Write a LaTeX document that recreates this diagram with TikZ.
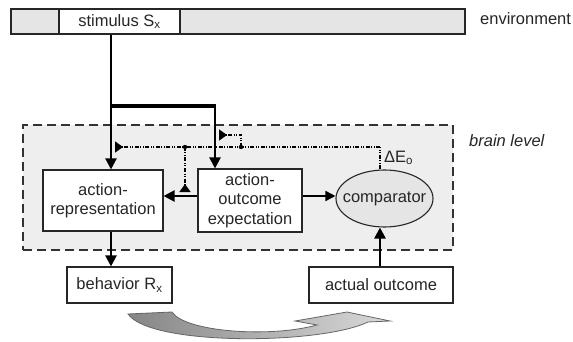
\documentclass[tikz,border=0pt]{standalone}
\usepackage{fontspec}
\setmainfont{Liberation Sans}
\usetikzlibrary{arrows.meta,shapes.geometric}
\begin{document}
\begin{tikzpicture}[x=1pt,y=-1pt,
  txt/.style={font=\fontsize{16.5}{19.5}\selectfont,text=black!85},
  box/.style={txt,draw=black!85,line width=1.1pt,fill=white,inner sep=0pt,align=center},
  flow/.style={line width=2.2pt,-{Triangle[width=11pt,length=11pt]}},
  mod/.style={line width=1.6pt,dash pattern=on 4pt off 1.5pt on 1pt off 1.5pt on 1pt off 1.5pt},
  modtip/.style={-{Triangle[reversed,width=11pt,length=8pt]}},
  lbl/.style={txt,inner sep=0pt}]

\useasboundingbox[fill=white] (0,0) rectangle (573,342);

% environment bar
\node[box,fill=gray!20,minimum width=454pt,minimum height=25pt] (env) at (238,21.5) {};
\node[box,minimum width=121pt,minimum height=25pt] (stim) at (119.5,21.5) {stimulus S\textsubscript{x}};
\node[lbl,anchor=west] (envlbl) at (480,19) {environment};

% brain level
\node[draw=black!80,dash pattern=on 9pt off 5pt,line width=1.1pt,fill=gray!13,
      minimum width=430pt,minimum height=125pt,inner sep=0pt] (brain) at (238,187.5) {};
\node[lbl,anchor=west,font=\fontsize{16.5}{19.5}\selectfont\itshape] (brainlbl) at (469,141) {brain level};

\node[box,minimum width=120pt,minimum height=61pt] (rep) at (103,200.5) {action-\\representation};
\node[box,minimum width=104pt,minimum height=63pt] (aoe) at (250,200.5) {action-\\outcome\\expectation};
\node[ellipse,draw=black!85,line width=1.1pt,fill=gray!20,minimum width=97pt,minimum height=57pt,inner sep=0pt] (comp) at (384.5,198.5) {};
\node[lbl] (comptext) at (comp) {comparator};
\node[lbl,anchor=west] (dE) at (384,158) {ΔE\textsubscript{o}};

\node[box,minimum width=105pt,minimum height=36pt] (beh) at (119.5,285) {behavior R\textsubscript{x}};
\node[box,minimum width=144pt,minimum height=36pt] (act) at (381,285) {actual outcome};

% stimulus connections
\coordinate (split) at (111,106);
\coordinate (split2) at (215,106);
\draw[flow] (stim.south -| split) -- (rep.north -| split);
\draw[line width=4pt] (split) -- (split2);
\draw[flow] ([yshift=2pt]split2) -- (split2 |- aoe.north);

\draw[flow] (rep.south -| split) -- (beh.north -| split);
\coordinate (hy) at (0,196);
\draw[flow] (aoe.west |- hy) -- (rep.east |- hy);
\draw[line width=1.6pt,-{Triangle[width=10pt,length=10pt]}] (aoe.east |- hy) -- (comp.west |- hy);
\coordinate (vx) at (380,0);
\draw[flow,line width=2.6pt] (act.north -| vx) -- (comp.south -| vx);

% feedback
\coordinate (fbtop) at (380,147);
\coordinate (fbl) at (115,147);
\coordinate (d1) at (185,147);
\coordinate (d2) at (241,147);
\coordinate (b2) at (241,135);
\coordinate (t2) at (219,135);
\coordinate (t1) at (185,192);
\draw[mod] (comp.north -| fbtop) -- (fbtop);
\draw[mod,modtip] (fbtop) -- (fbl);
\draw[mod,modtip] (d1) -- (t1);
\draw[mod,modtip] (d2) -- (b2) -- (t2);
\fill (d1) circle (2.2pt);
\fill (d2) circle (2.2pt);

% curved arrow
\shadedraw[left color=gray!95,right color=gray!30,draw=black!60,line width=0.8pt]
  (128,314) -- (172,312) .. controls (185,332) and (270,338) .. (317,325)
  -- (295,321) -- (347,312) -- (390,321) -- (368,322)
  .. controls (320,345) and (150,346) .. (128,314) -- cycle;
\end{tikzpicture}
\end{document}
